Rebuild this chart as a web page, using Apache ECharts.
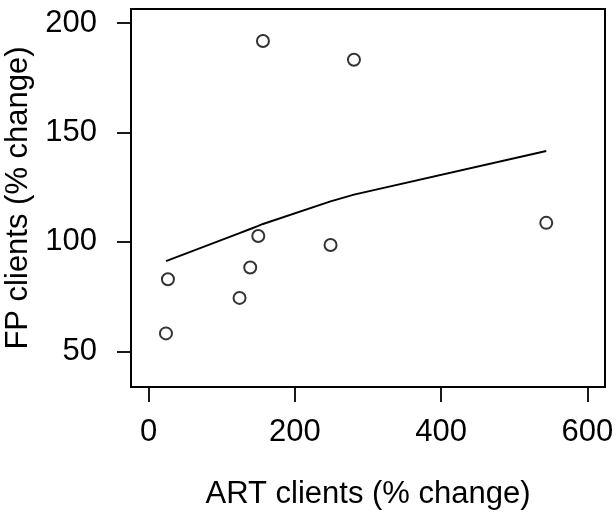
<!DOCTYPE html>
<html>
<head>
<meta charset="utf-8">
<script src="https://cdn.jsdelivr.net/npm/echarts@6/dist/echarts.min.js"></script>
<style>html,body{margin:0;padding:0;background:#fff;}#c{width:616px;height:516px;}</style>
</head>
<body>
<div id="c"></div>
<script>
// Data
const artChange = [23.8, 26.5, 124.4, 139, 150, 156.4, 248.8, 280.8, 543.7];
const fpChange  = [58.2, 82.9, 74.4, 88.3, 102.7, 191.8, 98.6, 183.2, 108.7];
const smoothFit = [91.2, 91.6, 104.0, 105.9, 107.3, 108.2, 118.5, 121.6, 141.5];
const xTicks = [0, 200, 400, 600];
const yTicks = [50, 100, 150, 200];
const xTitle = 'ART clients (% change)';
const yTitle = 'FP clients (% change)';

const font = "'Liberation Sans', Arial, Helvetica, sans-serif";
const chart = echarts.init(document.getElementById('c'), null, {renderer: 'canvas'});
chart.setOption({
  animation: false,
  backgroundColor: '#fff',
  grid: {left: 131, right: 11, top: 9, bottom: 129, containLabel: false, outerBoundsMode: 'none',
         show: true, borderColor: '#000', borderWidth: 2, backgroundColor: 'transparent'},
  xAxis: {
    type: 'value', min: -24, max: 624,
    splitLine: {show: false},
    axisLine: {show: true, onZero: false, lineStyle: {color: '#000', width: 0.01, opacity: 0}},
    axisTick: {show: true, inside: false, length: 15, customValues: xTicks, lineStyle: {color: '#000', width: 1.8}},
    axisLabel: {customValues: xTicks, margin: 30, color: '#000', fontSize: 31, fontFamily: font},
    name: xTitle, nameLocation: 'middle', nameGap: 92,
    nameTextStyle: {color: '#000', fontSize: 31, fontFamily: font}
  },
  yAxis: {
    type: 'value', min: 33.7, max: 206.4,
    splitLine: {show: false},
    axisLine: {show: true, onZero: false, lineStyle: {color: '#000', width: 0.01, opacity: 0}},
    axisTick: {show: true, inside: false, length: 14, customValues: yTicks, lineStyle: {color: '#000', width: 1.8}},
    axisLabel: {customValues: yTicks, margin: 34, color: '#000', fontSize: 31, fontFamily: font},
    name: yTitle, nameLocation: 'middle', nameGap: 96, nameRotate: 90,
    nameTextStyle: {color: '#000', fontSize: 31, fontFamily: font}
  },
  series: [
    {
      type: 'line',
      data: artChange.map((x, i) => [x, smoothFit[i]]),
      showSymbol: false, symbol: 'none',
      lineStyle: {color: '#000', width: 2},
      z: 2
    },
    {
      type: 'scatter',
      data: artChange.map((x, i) => [x, fpChange[i]]),
      symbol: 'emptyCircle', symbolSize: 12,
      itemStyle: {color: '#000', borderColor: '#000', borderWidth: 2},
      z: 3
    }
  ]
});
</script>
</body>
</html>
